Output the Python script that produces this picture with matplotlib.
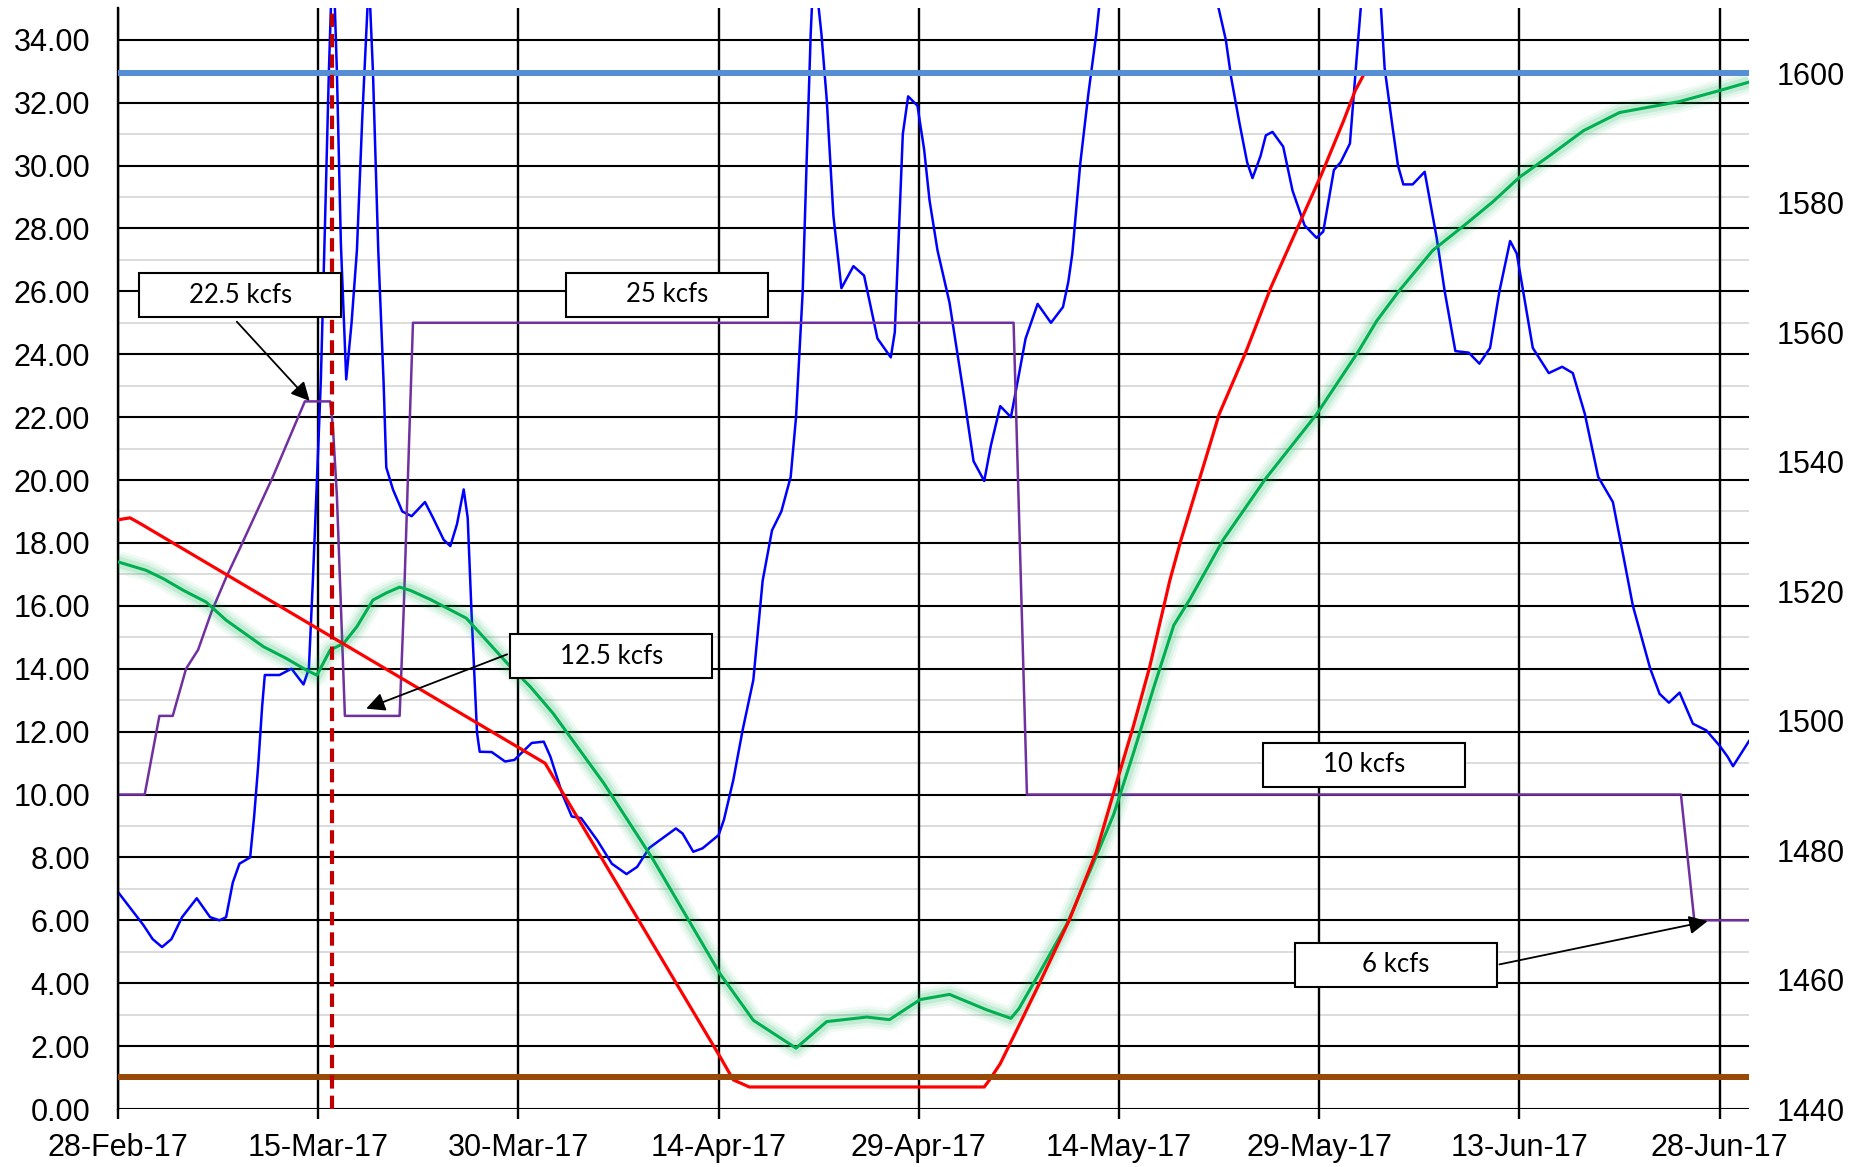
import datetime as dt
import matplotlib
matplotlib.use("Agg")
import matplotlib.pyplot as plt
import matplotlib.dates as mdates
from matplotlib.patches import Rectangle
import numpy as np

plt.rcParams["font.family"] = ["Liberation Sans", "DejaVu Sans"]

start = dt.datetime(2017, 2, 28)
tick_dates = ["2017-02-28", "2017-03-15", "2017-03-30", "2017-04-14", "2017-04-29",
              "2017-05-14", "2017-05-29", "2017-06-13", "2017-06-28"]

# inflow (kcfs, left axis) - days after 28-Feb-17
inflow_day = [0, 0.9, 1.9, 2.6, 3.3, 4.0, 4.8, 5.9, 6.9, 7.6, 8.1, 8.6, 9.1, 9.9, 10.2, 10.5,
              10.8, 11.0, 12.1, 13.0, 13.9, 14.3, 14.6, 15.0, 15.2, 15.5, 15.8, 16.1, 16.4,
              16.7, 17.1, 17.5, 17.9, 18.3, 18.8, 19.1, 19.5, 19.9, 20.1, 20.6, 21.3, 22.0,
              23.0, 23.6, 24.4, 24.9, 25.4, 25.9, 26.2, 26.5, 26.9, 27.1, 28.0, 29.0, 29.7,
              31.0, 31.9, 32.4, 33.3, 34.0, 34.7, 35.9, 37.0, 38.1, 38.9, 39.8, 40.6, 41.8,
              42.3, 43.1, 43.8, 45.0, 45.4, 46.1, 46.8, 47.6, 48.3, 49.0, 49.7, 50.4, 50.8,
              51.3, 51.6, 51.9, 52.2, 52.5, 52.7, 53.1, 53.6, 54.2, 55.1, 55.9, 56.3, 56.9,
              57.9, 58.2, 58.5, 58.8, 59.2, 59.9, 60.4, 60.8, 61.4, 62.3, 63.3, 64.1, 64.9,
              65.4, 66.1, 66.9, 67.3, 68.0, 68.9, 69.9, 70.8, 71.2, 71.5, 72.1, 72.7, 73.3,
              74.0, 76.0, 79.0, 81.5, 82.3, 83.0, 83.4, 84.0, 84.6, 85.0, 85.6, 86.0, 86.5,
              87.3, 88.0, 88.9, 89.8, 90.3, 91.1, 91.6, 92.3, 92.8, 93.3, 94.0, 94.6, 94.9,
              95.5, 95.9, 96.3, 97.0, 97.9, 98.8, 99.4, 100.2, 101.2, 102.0, 102.8, 103.5,
              104.3, 104.8, 105.4, 106.0, 107.2, 108.2, 109.0, 109.9, 110.9, 112.0, 112.8,
              113.5, 114.8, 115.5, 116.2, 117.0, 118.0, 119.0, 120.0, 120.6, 121.0, 121.6,
              122.2]
inflow_kcfs = [6.9, 6.4, 5.85, 5.4, 5.15, 5.4, 6.1, 6.7, 6.1, 6.0, 6.1, 7.2, 7.8, 8.0, 9.3, 10.9,
               12.8, 13.8, 13.8, 14.0, 13.5, 14.0, 16.8, 21.0, 23.2, 28.0, 33.0, 37.0, 33.0,
               27.5, 23.2, 25.0, 27.3, 31.5, 36.0, 33.0, 27.3, 23.1, 20.4, 19.7, 19.0, 18.85,
               19.3, 18.8, 18.1, 17.9, 18.6, 19.7, 18.8, 15.65, 11.96, 11.36, 11.35, 11.05, 11.1,
               11.64, 11.68, 11.2, 10.0, 9.3, 9.25, 8.55, 7.8, 7.47, 7.7, 8.3, 8.55, 8.92,
               8.76, 8.18, 8.29, 8.71, 9.2, 10.46, 12.05, 13.64, 16.8, 18.4, 19.0, 20.1, 22.0,
               26.0, 30.2, 34.2, 37.0, 35.0, 34.2, 32.1, 28.4, 26.1, 26.8, 26.5, 25.7, 24.5,
               23.9, 24.7, 27.8, 31.0, 32.2, 31.9, 30.5, 28.9, 27.3, 25.64, 22.9, 20.6, 19.97,
               21.1, 22.35, 22.0, 22.9, 24.5, 25.6, 25.0, 25.5, 26.3, 27.2, 30.08, 32.27, 34.2,
               37.0, 40.0, 41.0, 38.0, 35.3, 34.0, 32.8, 31.4, 30.1, 29.6, 30.3, 30.96, 31.07,
               30.6, 29.2, 28.1, 27.7, 27.9, 29.86, 30.1, 30.7, 33.4, 36.0, 37.0, 35.2, 33.1,
               31.2, 30.0, 29.4, 29.4, 29.8, 27.7, 26.0, 24.1, 24.05, 23.7, 24.2, 26.0,
               27.6, 27.2, 25.7, 24.2, 23.4, 23.6, 23.4, 22.1, 20.1, 19.3, 17.55,
               16.0, 14.0, 13.2, 12.92, 13.24, 12.25, 12.04, 11.55, 11.2, 10.9, 11.3,
               11.7]

# outflow (kcfs, left axis)
outflow_day = [0, 2.0, 3.1, 4.1, 5.1, 6.0, 7.0, 8.1, 9.1, 11.6, 14.0, 15.9, 16.1, 16.4, 17.0,
               21.1, 21.4, 21.8, 22.1, 67.1, 68.1, 117.1, 118.1, 122.2]
outflow_kcfs = [10, 10, 12.5, 12.5, 14.0, 14.6, 15.8, 16.9, 17.8, 20.1, 22.5, 22.5, 21.7, 19.5,
                12.5, 12.5, 15.8, 21.1, 25, 25, 10, 10, 6, 6]

# rule curve elevation (ft, right axis)
rule_day = [0, 0.9, 1.6, 32.0, 45.1, 46.1, 47.3, 64.9, 65.3, 66.1, 67.6, 69.06, 71.3, 73.3,
            74.8, 76.1, 77.3, 78.8, 79.6, 81.0, 82.5, 84.5, 86.4, 88.7, 90.2, 91.8, 92.7,
            93.4, 122.2]
rule_ft = [1531.0, 1531.3, 1530.5, 1493.4, 1448.1, 1444.5, 1443.4, 1443.4, 1444.5, 1447.0,
           1453.3, 1459.5, 1469.3, 1479.7, 1490.3, 1499.3, 1508.3, 1521.6, 1527.6, 1537.1,
           1547.3, 1556.9, 1567.0, 1577.6, 1584.5, 1592.5, 1597.3, 1600.0, 1600.0]

# actual pool elevation (ft, right axis)
pool_day = [0, 2.1, 3.4, 4.9, 6.6, 8.1, 10.9, 12.6, 14.1, 14.9, 15.9, 16.9, 17.9, 19.1, 20.1,
            21.1, 21.9, 23.4, 26.1, 29.4, 30.9, 32.6, 36.4, 40.1, 45.1, 47.6, 50.8, 53.1,
            56.1, 57.8, 60.1, 62.3, 65.1, 66.9, 67.5, 69.06, 71.1, 73.1, 74.6, 76.1, 77.6,
            79.1, 80.3, 82.8, 86.0, 89.8, 92.9, 94.3, 96.0, 98.5, 101.0, 103.0, 105.0,
            107.3, 109.8, 112.5, 117.0, 120.0, 122.2]
pool_ft = [1524.5, 1523.2, 1521.9, 1520.1, 1518.3, 1515.5, 1511.4, 1509.6, 1507.8, 1507.0,
           1510.9, 1511.9, 1514.5, 1518.6, 1519.7, 1520.6, 1520.1, 1518.7, 1515.8, 1508.3,
           1505.2, 1501.1, 1490.3, 1478.5, 1460.9, 1453.7, 1449.4, 1453.5, 1454.2, 1453.8,
           1456.9, 1457.7, 1455.3, 1454.0, 1455.5, 1461.1, 1468.6, 1478.1, 1485.5, 1495.1,
           1505.1, 1514.7, 1518.7, 1527.9, 1537.4, 1547.3, 1556.9, 1561.7, 1566.4, 1572.6,
           1576.7, 1580.1, 1583.9, 1587.3, 1591.1, 1593.9, 1595.6, 1597.3, 1598.6]

full_pool_ft = 1600
min_pool_ft = 1445
marker_day = 16.0

t0 = mdates.date2num(start)
def xd(days):
    return t0 + np.asarray(days, dtype=float)

fig = plt.figure(figsize=(18.7, 11.67), dpi=100)
ax = fig.add_axes([0.0631, 0.0497, 0.8722, 0.9432])
ax2 = ax.twinx()

ax.set_xlim(xd(0), xd(122.2))
ax.set_ylim(0, 35)
ax2.set_ylim(1440, 1610)

# grid
for v in range(1, 35, 2):
    ax.axhline(v, color="#dcdcdc", lw=1.4, zorder=0)
for v in range(0, 35, 2):
    ax.axhline(v, color="black", lw=1.5, zorder=0.5)
ticks = mdates.date2num([dt.datetime.strptime(s, "%Y-%m-%d") for s in tick_dates])
for t in ticks:
    ax.axvline(t, color="black", lw=1.7, zorder=0.5)

ax.plot(xd(inflow_day), inflow_kcfs, color="#0000ff", lw=1.8, zorder=2)
ax.plot(xd(outflow_day), outflow_kcfs, color="#7030a0", lw=1.8, zorder=2)

for w, a in [(16, 0.06), (12, 0.08), (8, 0.12)]:
    ax2.plot(xd(pool_day), pool_ft, color="#00b050", lw=w, alpha=a, solid_capstyle="butt", zorder=2)
ax2.plot(xd(pool_day), pool_ft, color="#00b050", lw=2.2, zorder=3)
ax2.plot(xd(rule_day), rule_ft, color="#ff0000", lw=2.3, zorder=3)
ax2.axhline(full_pool_ft, color="#558ed5", lw=4.3, zorder=3.5)
ax2.axhline(min_pool_ft, color="#984807", lw=4.3, zorder=3.5)
ax2.axvline(xd(marker_day), color="#c00000", lw=3, dashes=(3.2, 1.7), zorder=4)

# ticks and labels
ax.xaxis.set_major_locator(matplotlib.ticker.FixedLocator(ticks))
ax.xaxis.set_major_formatter(mdates.DateFormatter("%d-%b-%y"))
ax.set_yticks(range(0, 35, 2))
ax.yaxis.set_major_formatter(matplotlib.ticker.FormatStrFormatter("%.2f"))
ax2.set_yticks(range(1440, 1601, 20))
ax.tick_params(axis="x", labelsize=22, length=7, width=1.7, pad=10)
ax.tick_params(axis="y", labelsize=22, length=0, pad=20)
ax2.tick_params(axis="y", labelsize=22, length=0, pad=20)
for s in ["top", "right", "bottom"]:
    ax.spines[s].set_visible(False)
    ax2.spines[s].set_visible(False)
ax2.spines["left"].set_visible(False)
ax.spines["left"].set_linewidth(1.7)

# callout boxes
callouts = [("22.5 kcfs", 1.6, 25.18), ("25 kcfs", 33.6, 25.19), ("12.5 kcfs", 29.4, 13.69),
            ("10 kcfs", 85.8, 10.24), ("6 kcfs", 88.2, 3.89)]
for txt, d0, y0 in callouts:
    ax2.add_patch(Rectangle((xd(d0), y0), 15.1, 1.4, transform=ax.transData,
                            facecolor="white", edgecolor="black", lw=1.5, zorder=6))
    ax2.text(xd(d0 + 7.55), y0 + 0.7, txt, transform=ax.transData, ha="center", va="center",
             fontsize=18.5, family=["Lato", "DejaVu Sans"], zorder=7)

arrows = [((8.76, 25.1), (14.5, 22.45)), ((29.36, 14.49), (18.4, 12.7)),
          ((103.3, 4.58), (119.3, 5.99))]
for (d0, y0), (d1, y1) in arrows:
    ax2.annotate("", xy=(xd(d1), y1), xytext=(xd(d0), y0), xycoords=ax.transData,
                 textcoords=ax.transData,
                 arrowprops=dict(arrowstyle="-|>", color="black", lw=1.3, mutation_scale=28),
                 zorder=7)

fig.savefig("out.png", dpi=100)
